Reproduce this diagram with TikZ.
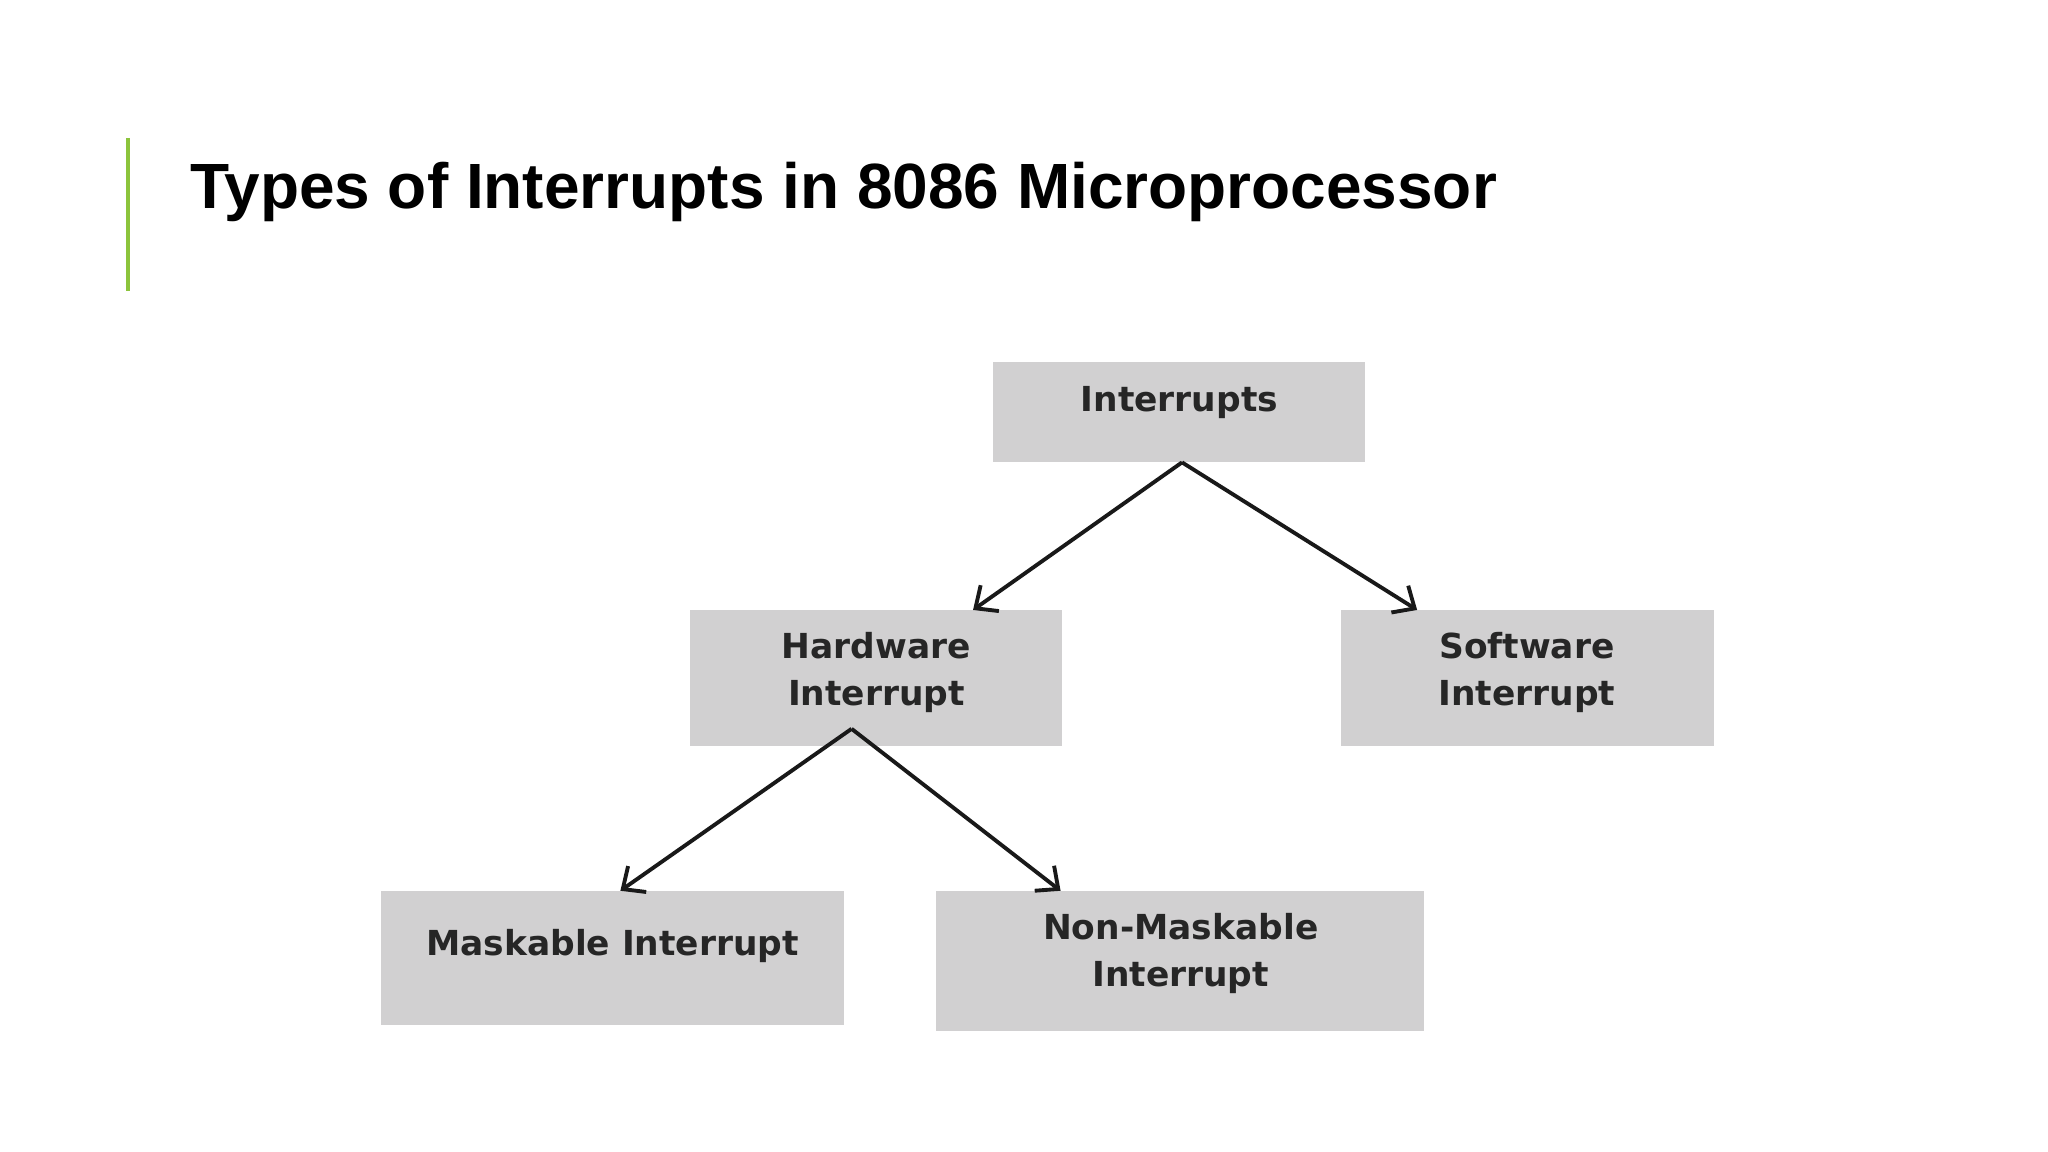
\documentclass[tikz,border=0pt]{standalone}
\usepackage{fontspec}
\setmainfont{Liberation Sans}
\newfontfamily\boxfont{DejaVu Sans}
\usetikzlibrary{arrows.meta}
\begin{document}
\begin{tikzpicture}[x=0.013061cm,y=-0.013061cm,
  gbox/.style={fill=boxgray,draw=none},
  btxt/.style={font=\boxfont\bfseries\fontsize{9.8pt}{13.2pt}\selectfont,align=center,text=black!85},
  arr/.style={draw=black!90,line width=1.1pt,-{Straight Barb[length=5pt,width=9pt,line width=1.1pt]}}]
\definecolor{boxgray}{RGB}{209,208,209}
\useasboundingbox[fill=white] (0,0) rectangle (1568,882);
\draw[color={rgb,255:red,140;green,196;blue,60},line width=1.3pt] (98,106) -- (98,223);
\node[anchor=base west,inner sep=0,font=\bfseries\fontsize{18.2pt}{20pt}\selectfont] (title) at (145,160) {Types of Interrupts in 8086 Microprocessor};
\fill[gbox] (760,277) rectangle (1045,354);
\fill[gbox] (528,467) rectangle (813,571);
\fill[gbox] (1027,467) rectangle (1312,571);
\fill[gbox] (292,682) rectangle (646,785);
\fill[gbox] (717,682) rectangle (1090,789);
\node[btxt] (int) at (903,308) {Interrupts};
\node[btxt] (hw) at (671,515) {Hardware\\Interrupt};
\node[btxt] (sw) at (1169,515) {Software\\Interrupt};
\node[btxt] (mi) at (469,724) {Maskable Interrupt};
\node[btxt] (nmi) at (904,730) {Non-Maskable\\Interrupt};
\coordinate (a0) at (905,354);
\coordinate (a1) at (745,467);
\coordinate (a2) at (1085,467);
\coordinate (b0) at (652,558);
\coordinate (b1) at (475,682);
\coordinate (b2) at (812,682);
\draw[arr] (a0) -- (a1);
\draw[arr] (a0) -- (a2);
\draw[arr] (b0) -- (b1);
\draw[arr] (b0) -- (b2);
\end{tikzpicture}
\end{document}
